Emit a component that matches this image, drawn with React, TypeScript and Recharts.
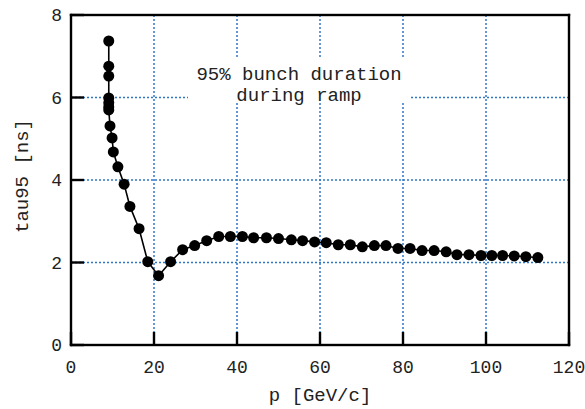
import { ComposedChart, Line, XAxis, YAxis, CartesianGrid, ReferenceArea } from "recharts";

// momentum p [GeV/c]
const pValues = [
  9.1, 9.1, 9.1, 9.1, 9.1, 9.1, 9.1, 9.4, 9.9, 10.2, 11.3, 12.8, 14.2, 16.4, 18.5, 21.1,
  24.0, 26.9, 29.8, 32.7, 35.6, 38.4, 41.3, 44.0, 47.1, 50.0, 53.1, 55.8, 58.7, 61.5,
  64.4, 67.3, 70.2, 73.1, 75.9, 78.8, 81.7, 84.6, 87.5, 90.4, 93.0, 95.9, 98.8, 101.4,
  104.0, 106.8, 109.6, 112.5,
];
// 95% bunch duration tau95 [ns]
const tauValues = [
  7.37, 6.76, 6.52, 5.99, 5.87, 5.77, 5.7, 5.31, 5.02, 4.68, 4.32, 3.9, 3.36, 2.82, 2.02, 1.68,
  2.02, 2.31, 2.41, 2.53, 2.63, 2.63, 2.63, 2.6, 2.6, 2.58, 2.55, 2.53, 2.5, 2.48,
  2.43, 2.43, 2.38, 2.41, 2.41, 2.34, 2.34, 2.29, 2.29, 2.26, 2.19, 2.19, 2.17, 2.17,
  2.17, 2.16, 2.14, 2.12,
];
const xTicks = [0, 20, 40, 60, 80, 100, 120];
const yTicks = [0, 2, 4, 6, 8];
const xGrid = [20, 40, 60, 80, 100];
const yGrid = [2, 4, 6];
const noteLines = ["95% bunch duration", "during ramp"];

const data = pValues.map((p, i) => ({ p, tau: tauValues[i] }));

const FONT = "'Liberation Mono', 'DejaVu Sans Mono', monospace";
const TICK = 13;
const W = 2.4;

const bottomTick = (props: any) => {
  const { x, y, payload } = props;
  return (
    <g>
      <rect x={x - W / 2} y={y - TICK} width={W} height={TICK} fill="#000" />
      <text x={x} y={y + 28} textAnchor="middle" fontFamily={FONT} fontSize={18} fill="#222">
        {payload.value}
      </text>
    </g>
  );
};

const leftTick = (props: any) => {
  const { x, y, payload } = props;
  return (
    <g>
      <rect x={x} y={y - W / 2} width={TICK} height={W} fill="#000" />
      <text x={x - 9} y={y + 6} textAnchor="end" fontFamily={FONT} fontSize={18} fill="#222">
        {payload.value}
      </text>
    </g>
  );
};

const topTick = (props: any) => {
  const { x, y } = props;
  return <rect x={x - W / 2} y={y} width={W} height={TICK} fill="#000" />;
};

const rightTick = (props: any) => {
  const { x, y } = props;
  return <rect x={x - TICK} y={y - W / 2} width={TICK} height={W} fill="#000" />;
};

// plot frame drawn as four filled bars around the area
const Frame = (props: any) => {
  const { x, y, width, height } = props;
  return (
    <g fill="#000">
      <rect x={x - W / 2} y={y - W / 2} width={width + W} height={W} />
      <rect x={x - W / 2} y={y + height - W / 2} width={width + W} height={W} />
      <rect x={x - W / 2} y={y - W / 2} width={W} height={height + W} />
      <rect x={x + width - W / 2} y={y - W / 2} width={W} height={height + W} />
    </g>
  );
};

const NoteLabel = ({ viewBox }: any) => {
  const cx = viewBox.x + viewBox.width / 2;
  return (
    <g>
      {noteLines.map((t, i) => (
        <text
          key={t}
          x={cx}
          y={viewBox.y + 23 + i * 21}
          textAnchor="middle"
          fontFamily={FONT}
          fontSize={19}
          fill="#222"
        >
          {t}
        </text>
      ))}
    </g>
  );
};

export default function App() {
  return (
    <div style={{ position: "absolute", left: 0, top: 0, background: "#fff" }}>
      <ComposedChart width={585} height={409} data={data} margin={{ top: 15, right: 16, bottom: 0, left: 0 }}>
        <CartesianGrid
          xAxisId="bottom"
          yAxisId="left"
          stroke="#2f78c8"
          strokeDasharray="2 2"
          strokeWidth={1.5}
          verticalValues={xGrid}
          horizontalValues={yGrid}
        />
        <XAxis
          xAxisId="bottom"
          dataKey="p"
          type="number"
          domain={[0, 120]}
          ticks={xTicks}
          height={64}
          tickSize={0}
          tickMargin={0}
          tick={bottomTick}
          axisLine={false}
          tickLine={false}
          label={{ value: "p [GeV/c]", position: "insideBottom", offset: 8, fontFamily: FONT, fontSize: 19, fill: "#222" }}
        />
        <XAxis
          xAxisId="top"
          orientation="top"
          dataKey="p"
          type="number"
          domain={[0, 120]}
          ticks={xTicks}
          height={0}
          tickSize={0}
          tickMargin={0}
          tick={topTick}
          axisLine={false}
          tickLine={false}
        />
        <YAxis
          yAxisId="left"
          dataKey="tau"
          type="number"
          domain={[0, 8]}
          ticks={yTicks}
          width={71}
          tickSize={0}
          tickMargin={0}
          tick={leftTick}
          axisLine={false}
          tickLine={false}
          label={{ value: "tau95 [ns]", angle: -90, position: "center", dx: -14, dy: -4, fontFamily: FONT, fontSize: 19, fill: "#222" }}
        />
        <YAxis
          yAxisId="right"
          orientation="right"
          dataKey="tau"
          type="number"
          domain={[0, 8]}
          ticks={yTicks}
          width={0}
          tickSize={0}
          tickMargin={0}
          tick={rightTick}
          axisLine={false}
          tickLine={false}
        />
        <ReferenceArea
          xAxisId="bottom"
          yAxisId="left"
          x1={28.2}
          x2={81.7}
          y1={5.87}
          y2={6.98}
          fill="#fff"
          fillOpacity={1}
          stroke="none"
          label={<NoteLabel />}
        />
        <ReferenceArea
          xAxisId="bottom"
          yAxisId="left"
          x1={0}
          x2={120}
          y1={0}
          y2={8}
          ifOverflow="visible"
          shape={Frame}
        />
        <Line
          xAxisId="bottom"
          yAxisId="left"
          dataKey="tau"
          stroke="#000"
          strokeWidth={1.6}
          dot={{ r: 5.5, fill: "#000", stroke: "#000", strokeWidth: 0 }}
          isAnimationActive={false}
        />
      </ComposedChart>
    </div>
  );
}
